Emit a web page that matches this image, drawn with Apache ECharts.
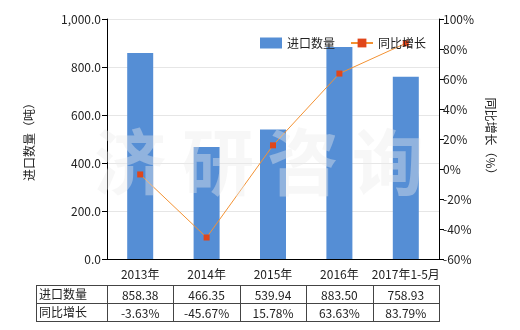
<!DOCTYPE html>
<html><head><meta charset="utf-8">
<script src="https://cdn.jsdelivr.net/npm/echarts@6/dist/echarts.min.js"></script>
<style>html,body{margin:0;padding:0;background:#fff}#c{width:520px;height:330px}</style>
</head><body><div id="c"></div>
<script>
var categories = ['2013年','2014年','2015年','2016年','2017年1-5月'];
var importQty = [858.38, 466.35, 539.94, 883.50, 758.93];
var yoyGrowth = [-3.63, -45.67, 15.78, 63.63, 83.79];
var qtyLabels = ['858.38','466.35','539.94','883.50','758.93'];
var yoyLabels = ['-3.63%','-45.67%','15.78%','63.63%','83.79%'];
var rowNames = ['进口数量','同比增长'];
var seriesNames = ['进口数量','同比增长'];
var watermarkChars = ['济','研','咨','询'];

var FONT = '"Microsoft YaHei","Noto Sans CJK SC",sans-serif';
var chart = echarts.init(document.getElementById('c'));
var G = {left:107, right:81, top:19, bottom:71};
var option = {
  animation:false,
  textStyle:{fontFamily:FONT},
  grid:{left:G.left,right:G.right,top:G.top,bottom:G.bottom,containLabel:false},
  legend:{
    left:255, top:32, itemGap:15, itemWidth:22, itemHeight:11,
    textStyle:{fontSize:12,color:'#222',fontFamily:FONT},
    data:[{name:seriesNames[0],icon:'rect'},{name:seriesNames[1]}]
  },
  xAxis:{
    type:'category', data:categories,
    axisLine:{lineStyle:{color:'#000'}},
    axisTick:{alignWithLabel:true,length:4,lineStyle:{color:'#000'}},
    axisLabel:{color:'#222',fontSize:12,margin:9,interval:0}
  },
  yAxis:[{
    type:'value', min:0, max:1000, interval:200,
    name:'进口数量（吨）', nameLocation:'middle', nameGap:72, nameRotate:90,
    nameTextStyle:{fontSize:12,color:'#222'},
    axisLine:{show:true,lineStyle:{color:'#000'}},
    axisTick:{show:true,length:5,lineStyle:{color:'#000'}},
    axisLabel:{color:'#222',fontSize:12,margin:6,formatter:function(v){return v.toLocaleString('en-US',{minimumFractionDigits:1,maximumFractionDigits:1});}},
    splitLine:{lineStyle:{color:'#e6e6e6'}}
  },{
    type:'value', min:-60, max:100, interval:20, position:'right',
    name:'同比增长（%）', nameLocation:'middle', nameGap:45, nameRotate:-90,
    nameTextStyle:{fontSize:12,color:'#222'},
    axisLine:{show:true,lineStyle:{color:'#000'}},
    axisTick:{show:true,length:5,lineStyle:{color:'#000'}},
    axisLabel:{color:'#222',fontSize:12,margin:4,formatter:'{value}%'},
    splitLine:{show:false}
  }],
  series:[{
    name:seriesNames[0], type:'bar', data:importQty, barWidth:26,
    itemStyle:{color:'#558ed5'}, z:1
  },{
    name:seriesNames[1], type:'line', yAxisIndex:1, data:yoyGrowth,
    symbol:'rect', symbolSize:6,
    lineStyle:{color:'#f39233',width:1},
    itemStyle:{color:'#e0461a'}, z:3
  }]
};
chart.setOption(option);

var g = [];
var wmX = [130, 218, 303, 388];
watermarkChars.forEach(function(ch,i){
  g.push({type:'text', x:wmX[i], y:162, z:10, silent:true,
    style:{text:ch, fontSize:72, fontWeight:'bold', fontFamily:FONT,
      fill:'rgba(235,235,235,0.4)', align:'center', verticalAlign:'middle'}});
});
var tLeft = 36, tRight = 439, r0 = 285, r1 = 303, r2 = 321;
var lc = '#444';
function ln(x1,y1,x2,y2){g.push({type:'line',shape:{x1:x1,y1:y1,x2:x2,y2:y2},style:{stroke:lc,lineWidth:1}});}
ln(tLeft,r0+0.5,tRight,r0+0.5); ln(tLeft,r1+0.5,tRight,r1+0.5); ln(tLeft,r2+0.5,tRight,r2+0.5);
ln(tLeft+0.5,r0,tLeft+0.5,r2+1);
var centers = categories.map(function(c){return chart.convertToPixel({xAxisIndex:0},c);});
var step = centers.length>1 ? centers[1]-centers[0] : 66;
ln(G.left+0.5,r0,G.left+0.5,r2+1);
centers.forEach(function(cx){ var xe=Math.round(cx+step/2)+0.5; ln(xe,r0,xe,r2+1); });
rowNames.forEach(function(n,i){
  g.push({type:'text',x:tLeft+3,y:(i?r1:r0)+9.5,style:{text:n,fontSize:12,fontFamily:FONT,fill:'#222',align:'left',verticalAlign:'middle'}});
});
centers.forEach(function(cx,i){
  g.push({type:'text',x:cx,y:r0+10,style:{text:qtyLabels[i],fontSize:12,fontFamily:FONT,fill:'#222',align:'center',verticalAlign:'middle'}});
  g.push({type:'text',x:cx,y:r1+10,style:{text:yoyLabels[i],fontSize:12,fontFamily:FONT,fill:'#222',align:'center',verticalAlign:'middle'}});
});
chart.setOption({graphic:g});
</script></body></html>
